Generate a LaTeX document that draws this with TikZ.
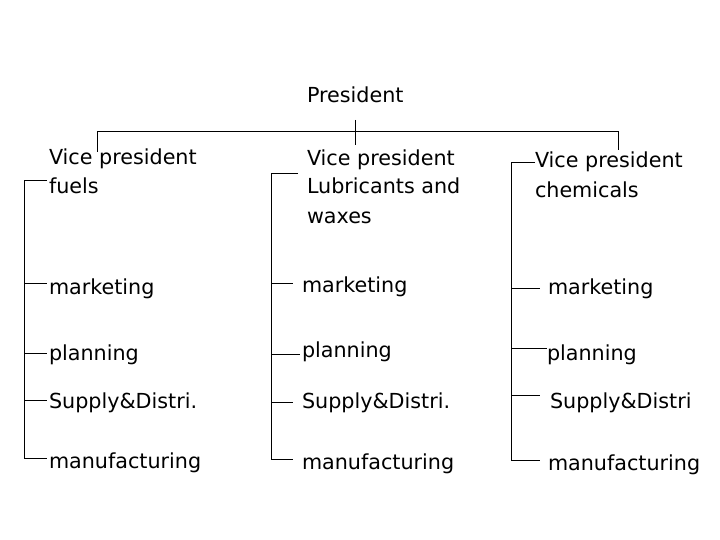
\documentclass[tikz,border=0pt]{standalone}
\usepackage{fontspec}
\setmainfont{DejaVu Sans}
\begin{document}
\begin{tikzpicture}[x=1pt,y=-1pt,
  lbl/.style={anchor=base west,inner sep=0pt,outer sep=0pt,align=left,font=\fontsize{20.7}{29}\selectfont},
  ln/.style={line width=1pt,black}]
\useasboundingbox (0,0) rectangle (720,540);
% texts (multi-line nodes: base = baseline of last line)
\node[lbl] (pres) at (307,103) {President};
\node[lbl] (vp1) at (49,194) {Vice president\\fuels};
\node[lbl] (vp2) at (307,223) {Vice president\\Lubricants and\\waxes};
\node[lbl] (vp3) at (535,197) {Vice president\\chemicals};
\node[lbl] (m1) at (49,294) {marketing};
\node[lbl] (p1) at (49,360) {planning};
\node[lbl] (s1) at (49,408) {Supply\&Distri.};
\node[lbl] (f1) at (49,468) {manufacturing};
\node[lbl] (m2) at (302,292) {marketing};
\node[lbl] (p2) at (302,357) {planning};
\node[lbl] (s2) at (302,408) {Supply\&Distri.};
\node[lbl] (f2) at (302,469) {manufacturing};
\node[lbl] (m3) at (548,294) {marketing};
\node[lbl] (p3) at (547,360) {planning};
\node[lbl] (s3) at (550,408) {Supply\&Distri};
\node[lbl] (f3) at (548,470) {manufacturing};
% top tree
\coordinate (ptop) at (355,120);
\coordinate (pbot) at (355,145);
\coordinate (hl) at (97,132);
\coordinate (hr) at (618,132);
\coordinate (t1) at (97,152);
\coordinate (t3) at (618,150);
\draw[ln] (ptop) -- (pbot);
\draw[ln] (t1) -- (hl) -- (hr) -- (t3);
% column 1
\coordinate (a0) at (24,181);
\coordinate (a1) at (24,283);
\coordinate (a2) at (24,353);
\coordinate (a3) at (24,400);
\coordinate (a4) at (24,458);
\draw[ln] (47,181) -- (a0) -- (a4) -- (47,458);
\draw[ln] (a1) -- (47,283);
\draw[ln] (a2) -- (47,353);
\draw[ln] (a3) -- (47,400);
% column 2
\coordinate (b0) at (271,174);
\coordinate (b1) at (271,283);
\coordinate (b2) at (271,354);
\coordinate (b3) at (271,402);
\coordinate (b4) at (271,459);
\draw[ln] (298,174) -- (b0) -- (b4) -- (293,459);
\draw[ln] (b1) -- (293,283);
\draw[ln] (b2) -- (300,354);
\draw[ln] (b3) -- (293,402);
% column 3
\coordinate (c0) at (511,163);
\coordinate (c1) at (511,288);
\coordinate (c2) at (511,348);
\coordinate (c3) at (511,395);
\coordinate (c4) at (511,460);
\draw[ln] (535,163) -- (c0) -- (c4) -- (540,460);
\draw[ln] (c1) -- (540,288);
\draw[ln] (c2) -- (547,348);
\draw[ln] (c3) -- (540,395);
\end{tikzpicture}
\end{document}
